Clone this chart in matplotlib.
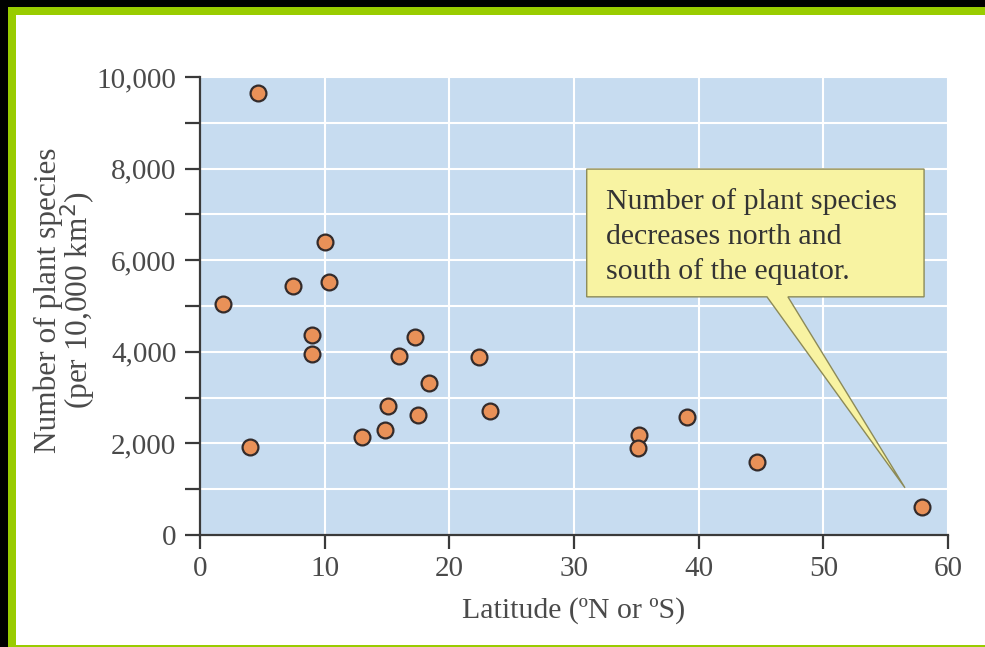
import matplotlib
matplotlib.use("Agg")
import matplotlib.pyplot as plt
from matplotlib.patches import Rectangle, Polygon
from matplotlib.ticker import MultipleLocator, FuncFormatter

plt.rcParams['font.family'] = ['Liberation Serif', 'DejaVu Serif']

# Dados (latitude em graus, especies por 10.000 km2)
latitude = [4.65, 1.85, 4.0, 7.45, 9.0, 9.0, 10.0, 10.35, 13.0, 14.8, 15.1,
            16.0, 17.25, 17.5, 18.35, 22.4, 23.3, 35.2, 35.1, 39.1, 44.7, 57.9]
especies = [9650, 5040, 1930, 5440, 4360, 3950, 6400, 5530, 2150, 2300, 2810,
            3900, 4320, 2610, 3310, 3880, 2700, 2190, 1910, 2570, 1600, 610]

xticks = [0, 10, 20, 30, 40, 50, 60]
yticks = [0, 2000, 4000, 6000, 8000, 10000]

texto_nota = "Number of plant species\ndecreases north and\nsouth of the equator."

W, H = 985, 647
fig = plt.figure(figsize=(W / 100, H / 100), dpi=100, facecolor='black')

# moldura verde + fundo branco
fig.patches.append(Rectangle((8 / W, 0), 1, 1 - 7 / H, transform=fig.transFigure,
                             facecolor='#99cc00', edgecolor='none', zorder=-20))
fig.patches.append(Rectangle((16 / W, 2 / H), 1, 1 - 17 / H, transform=fig.transFigure,
                             facecolor='white', edgecolor='none', zorder=-10))

ax = fig.add_axes([200 / W, 1 - 535 / H, 748 / W, 458 / H])
ax.set_facecolor('#c7dcf0')
ax.set_xlim(0, 60)
ax.set_ylim(0, 10000)

ax.scatter(latitude, especies, s=130, color='#e99158', edgecolor='#332b2b',
           linewidth=1.6, zorder=4, clip_on=False)

ax.set_xticks(xticks)
ax.set_yticks(yticks)
ax.yaxis.set_minor_locator(MultipleLocator(1000))
ax.yaxis.set_major_formatter(FuncFormatter(lambda v, p: f"{int(v):,}"))

ax.grid(True, which='both', color='white', linewidth=1.5, zorder=1)
ax.set_axisbelow(True)

for s in ['top', 'right']:
    ax.spines[s].set_visible(False)
for s in ['left', 'bottom']:
    ax.spines[s].set_color('#3a3a3a')
    ax.spines[s].set_linewidth(1.6)

ax.tick_params(axis='both', which='both', direction='out', color='#3a3a3a',
               width=1.6, labelsize=21, labelcolor='#4a4a4a')
ax.tick_params(axis='y', which='both', length=11, pad=6)
ax.tick_params(axis='x', which='major', length=10, pad=5)

ax.set_xlabel("Latitude (ºN or ºS)", fontsize=21.5, color='#4a4a4a', labelpad=11)
fig.text(66 / W, 1 - 300 / H, "Number of plant species\n(per 10,000 km$^2$)",
         rotation=90, ha='center', va='center', multialignment='center',
         fontsize=22.5, color='#4a4a4a', linespacing=0.85)

# balao de anotacao
x0, x1, y0, y1 = 0.517, 0.968, 0.520, 0.799
balao = [(x0, y1), (x1, y1), (x1, y0), (0.786, y0), (0.9425, 0.103),
         (0.758, y0), (x0, y0)]
ax.add_patch(Polygon(balao, closed=True, transform=ax.transAxes,
                     facecolor='#f8f3a2', edgecolor='#8c8a58', linewidth=1.0,
                     zorder=5))
ax.text(0.543, 0.757, texto_nota, transform=ax.transAxes, ha='left', va='top',
        fontsize=21.5, color='#333333', linespacing=1.42, zorder=6)

fig.savefig("out.png", dpi=100, facecolor=fig.get_facecolor())
